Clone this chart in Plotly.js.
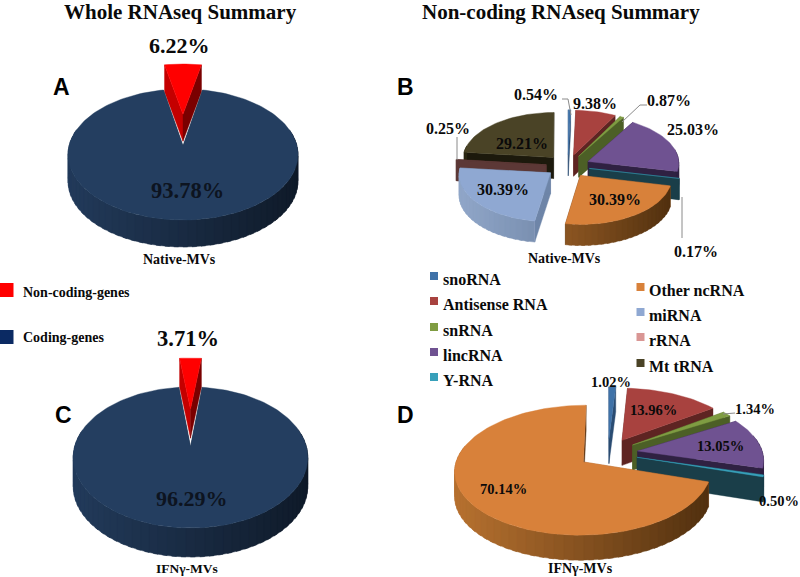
<!DOCTYPE html>
<html><head><meta charset="utf-8">
<script src="https://cdn.plot.ly/plotly-3.0.1.min.js"></script>
<style>html,body{margin:0;padding:0;background:#fff}#c{width:800px;height:577px}</style></head>
<body><div id="c"></div>
<script>
// ---- data ----
const wholeCategories = ['Non-coding-genes','Coding-genes'];
const nativeWholeValues = [6.22,93.78];
const ifnWholeValues = [3.71,96.29];
const ncCategories = ['snoRNA','Antisense RNA','snRNA','lincRNA','Y-RNA','Other ncRNA','miRNA','rRNA','Mt tRNA'];
const nativeNcValues = [0.54,9.38,0.87,25.03,0.17,30.39,30.39,0.25,29.21];
const ifnNcCategories = ['snoRNA','Antisense RNA','snRNA','lincRNA','Y-RNA','Other ncRNA'];
const ifnNcValues = [1.02,13.96,1.34,13.05,0.50,70.14];

// ---- styles ----
const wholeStyle = {
 'Non-coding-genes':{top:'#ff0000',cutL:'#7a0000',cutR:'#c40000',wallL:'#c00000',wallR:'#900000'},
 'Coding-genes':{top:'#243e60',cutL:'#16263c',cutR:'#16263c',wallL:'#223a5a',wallR:'#0f1a29'}
};
const ncStyle = {
 'snoRNA':{top:'#3f72a8',cutL:'#2a4c72',cutR:'#2a4c72',wallL:'#3f6a9a',wallR:'#2a4c72'},
 'Antisense RNA':{top:'#a8423f',cutL:'#5e2422',cutR:'#5e2422',wallL:'#8a3634',wallR:'#5e2422'},
 'snRNA':{top:'#7f9c42',cutL:'#4c5f26',cutR:'#4c5f26',wallL:'#6a8436',wallR:'#4c5f26'},
 'lincRNA':{top:'#6f5291',cutL:'#2f2142',cutR:'#2f2142',wallL:'#57406f',wallR:'#2f2142'},
 'Y-RNA':{top:'#38a0ba',cutL:'#1a3e49',cutR:'#1a3e49',wallL:'#1f4a56',wallR:'#1a3e49'},
 'Other ncRNA':{top:'#d8813a',cutL:'#5c3514',cutR:'#a5622c',wallL:'#b5702f',wallR:'#51300f'},
 'miRNA':{top:'#8fa8d2',cutL:'#6e85a8',cutR:'#6e85a8',wallL:'#90a6c8',wallR:'#5a7090'},
 'rRNA':{top:'#5e3a38',cutL:'#5c3836',cutR:'#5c3836',wallL:'#5c3836',wallR:'#5c3836'},
 'Mt tRNA':{top:'#4a4326',cutL:'#1c190c',cutR:'#1c190c',wallL:'#2c2814',wallR:'#1c190c'}
};
const charts = [
 {cats:wholeCategories,vals:nativeWholeValues,style:wholeStyle,cx:183,cy:146,Rx:114,Ry:64.4,a:0.13,depth:27,explode:[0.526,0],centreFirst:true},
 {cats:wholeCategories,vals:ifnWholeValues,style:wholeStyle,cx:190.5,cy:447,Rx:116,Ry:69,a:0.149,depth:29,explode:[0.597,0],centreFirst:true},
 {cats:ncCategories,vals:nativeNcValues,style:ncStyle,cx:568,cy:166,Rx:91,Ry:47,a:0.03,depth:21,explode:new Array(9).fill(0.24),centreFirst:false},
 {cats:ifnNcCategories,vals:ifnNcValues,style:ncStyle,cx:608,cy:453,Rx:125,Ry:61.7,a:0.125,depth:25,explode:new Array(6).fill(0.24),centreFirst:false}
];

const rad = d=>d*Math.PI/180;
const hex = c=>[1,3,5].map(i=>parseInt(c.substr(i,2),16));
const lerp = (c1,c2,t)=>{const a=hex(c1),b=hex(c2);return 'rgb('+a.map((v,i)=>Math.round(v+(b[i]-v)*t)).join(',')+')';};
const traces = [];
function poly(xs,ys,color){
  traces.push({type:'scatter',mode:'lines',x:xs.concat(xs[0]),y:ys.concat(ys[0]),fill:'toself',fillcolor:color,
    line:{color:color,width:0.4},hoverinfo:'skip',showlegend:false});
}
function drawChart(ch){
  const total = ch.vals.reduce((s,v)=>s+v,0);
  let ang = ch.centreFirst ? -ch.vals[0]/total*180 : 0;
  const slices = ch.vals.map((v,i)=>{
    const s=ang, e=ang+v/total*360; ang=e;
    const mid=(s+e)/2;
    return {i,s,e,mid,vb:-Math.cos(rad(mid)),ub:Math.sin(rad(mid))};
  });
  const order = slices.slice().sort((p,q)=>p.vb-q.vb);
  order.forEach(sl=>{
    const st = ch.style[ch.cats[sl.i]];
    const ex = ch.explode[sl.i];
    const eu = ex*sl.ub, ev = ex*sl.vb;
    const proj = (u,v)=>{const d=1-ch.a*v;return [ch.cx+ch.Rx*u/d,ch.cy+ch.Ry*v/d];};
    const apex = proj(eu,ev), ax=apex[0], ay=apex[1];
    const pt = t=>proj(eu+Math.sin(rad(t)),ev-Math.cos(rad(t)));
    const D = ch.depth;
    // cut faces
    const ps=pt(sl.s), pe=pt(sl.e);
    poly([ax,ps[0],ps[0],ax],[ay,ps[1],ps[1]+D,ay+D],st.cutR);
    poly([ax,pe[0],pe[0],ax],[ay,pe[1],pe[1]+D,ay+D],st.cutL);
    // outer wall strips, front-facing part only; a strip overlaps the next so no seam shows
    const lo=Math.max(sl.s,75), hi=Math.min(sl.e,285);
    if(hi>lo){
      const n=Math.max(1,Math.ceil((hi-lo)/4));
      for(let k=0;k<n;k++){
        const t0=lo+(hi-lo)*k/n,t1=Math.min(hi,lo+(hi-lo)*(k+1)/n+2);
        const xs=[],ys=[],xb=[],yb=[];
        for(let j=0;j<=4;j++){const p=pt(t0+(t1-t0)*j/4);xs.push(p[0]);ys.push(p[1]);xb.unshift(p[0]);yb.unshift(p[1]+D);}
        const am=pt((t0+t1)/2);
        const tt=Math.min(1,Math.max(0,(am[0]-ax+ch.Rx)/(2*ch.Rx)));
        poly(xs.concat(xb),ys.concat(yb),lerp(st.wallR,st.wallL,1-tt));
      }
    }
    // top face
    const xs=[ax],ys=[ay];
    const n=Math.max(2,Math.ceil((sl.e-sl.s)/2));
    for(let k=0;k<=n;k++){const p=pt(sl.s+(sl.e-sl.s)*k/n);xs.push(p[0]);ys.push(p[1]);}
    poly(xs,ys,st.top);
  });
}
charts.forEach(drawChart);

// ---- leader lines ----
const leaders = [
 [[562,568,571],[99,99,115]],
 [[647,640,622],[105,105,122]],
 [[457,457],[137,160]],
 [[682,682],[197,238]],
 [[735,723],[413,414]]
];
leaders.forEach(l=>traces.push({type:'scatter',mode:'lines',x:l[0],y:l[1],line:{color:'#8a8a8a',width:1},hoverinfo:'skip',showlegend:false}));

// ---- legend keys ----
const keyLeft = [['Non-coding-genes',6.5,290,'#ff0000',14],['Coding-genes',6.5,337,'#0b2a63',14]];
const keyNcA = [['snoRNA',279],['Antisense RNA',304],['snRNA',330],['lincRNA',355],['Y-RNA',380]];
const keyNcB = [['Other ncRNA',290],['miRNA',315],['rRNA',340],['Mt tRNA',366]];
const keyColor = {'snoRNA':'#3f72a8','Antisense RNA':'#a8423f','snRNA':'#7f9c42','lincRNA':'#6f5291','Y-RNA':'#38a0ba','Other ncRNA':'#d8813a','miRNA':'#8fa8d2','rRNA':'#d99694','Mt tRNA':'#4a4326'};
const marks=[];
keyLeft.forEach(k=>marks.push([k[1],k[2],k[3],k[4]]));
keyNcA.forEach(k=>marks.push([434,k[1]-3,keyColor[k[0]],8]));
keyNcB.forEach(k=>marks.push([640.5,k[1]-3,keyColor[k[0]],8]));
traces.push({type:'scatter',mode:'markers',x:marks.map(m=>m[0]),y:marks.map(m=>m[1]),
  marker:{symbol:'square',opacity:1,color:marks.map(m=>m[2]),size:marks.map(m=>m[3]),line:{width:0}},hoverinfo:'skip',showlegend:false});

// ---- text ----
const serif='"Liberation Serif","Times New Roman",serif', sans='"Liberation Sans",Arial,sans-serif';
const ann=[];
function txt(text,x,y,size,anchor,family,color){
  ann.push({text:'<b>'+text+'</b>',x,y,xref:'x',yref:'y',xanchor:anchor||'center',yanchor:'middle',showarrow:false,
    font:{family:family||serif,size,color:color||'#0a0a0a'}});
}
const pct=v=>v.toFixed(2)+'%';
txt('Whole RNAseq Summary',180,12,21);
txt('Non-coding RNAseq Summary',561,12,21);
txt('A',61,87,23,'center',sans,'#000');txt('B',405,87,23,'center',sans,'#000');
txt('C',63,415,23,'center',sans,'#000');txt('D',405,415,23,'center',sans,'#000');
txt(pct(nativeWholeValues[0]),179,45,22);
txt(pct(nativeWholeValues[1]),187,190,22.5,'center',serif,'#0d1420');
txt('Native-MVs',179,259,14);
txt(pct(ifnWholeValues[0]),188,338,22.5);
txt(pct(ifnWholeValues[1]),192,498,22,'center',serif,'#0d1420');
txt('IFNγ-MVs',187,568,13.5);
txt(wholeCategories[0],21,292,14,'left');
txt(wholeCategories[1],21,337,14,'left');
[[536,94],[595,103],[669,100],[693,129],[696,251],[615,199],[503,189],[448,128],[522,143]].forEach((p,i)=>
  txt(pct(nativeNcValues[i]),p[0],p[1],16));
txt('Native-MVs',564,258,14);
keyNcA.forEach(k=>txt(k[0],440.5,k[1],16,'left'));
keyNcB.forEach(k=>txt(k[0],646.5,k[1],16,'left'));
[[611,382],[653,410],[755,409],[720,446],[779,501],[503,489]].forEach((p,i)=>
  txt(pct(ifnNcValues[i]),p[0],p[1],14.5));
txt('IFNγ-MVs',580,568,14);

Plotly.newPlot('c',traces,{
  width:800,height:577,margin:{l:0,r:0,t:0,b:0},paper_bgcolor:'#fff',plot_bgcolor:'#fff',showlegend:false,
  xaxis:{range:[0,800],visible:false,fixedrange:true},
  yaxis:{range:[577,0],visible:false,fixedrange:true},
  annotations:ann
},{displayModeBar:false,staticPlot:true});
</script></body></html>
